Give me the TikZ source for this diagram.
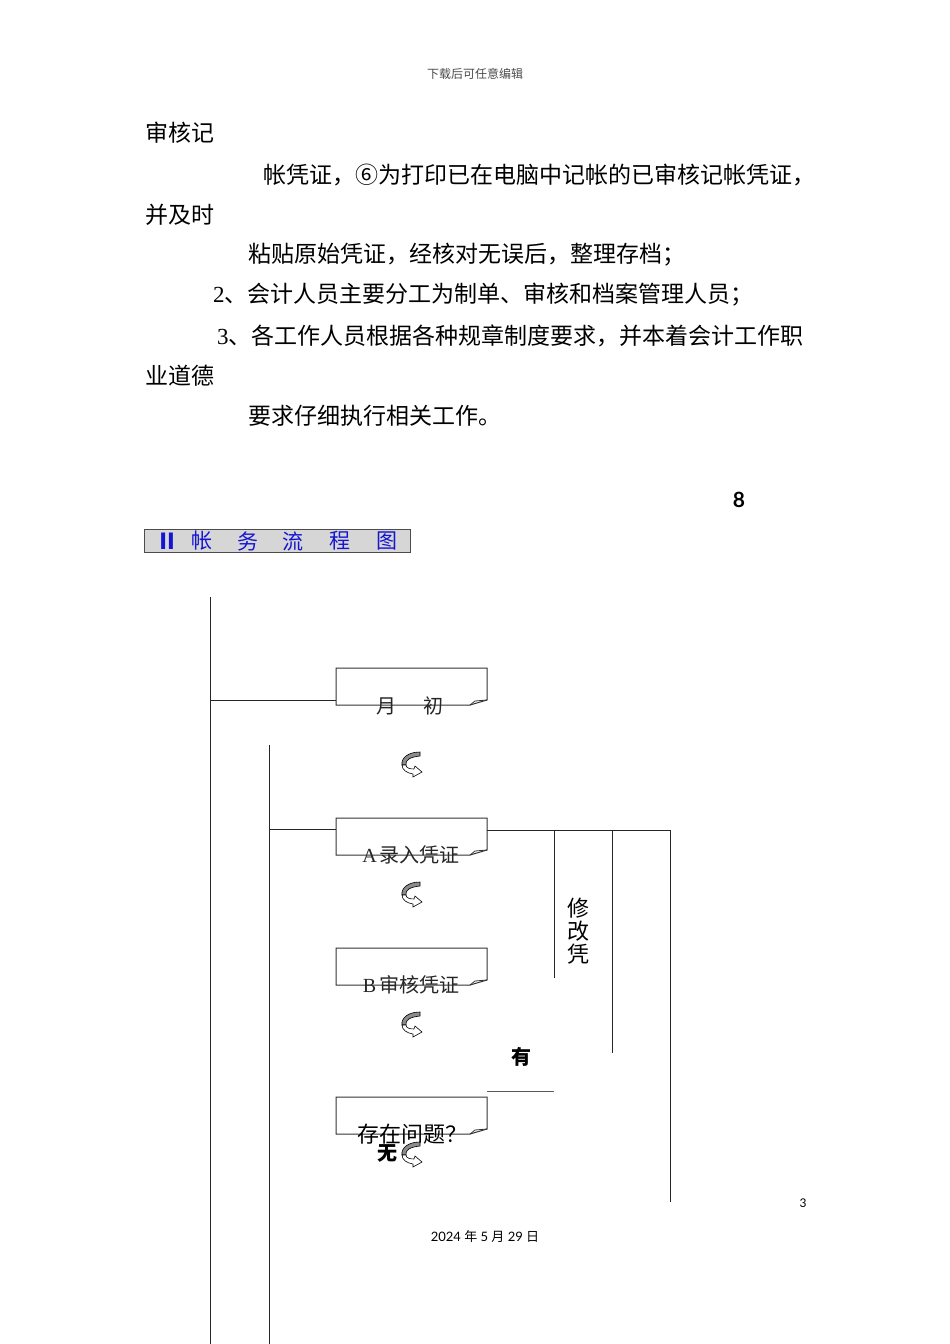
\documentclass[tikz,border=0pt]{standalone}
\usepackage{fontspec}
\setmainfont{Liberation Serif}
\newfontfamily\cjk{Noto Sans CJK SC}
\newfontfamily\numf{Lato}
\definecolor{titleblue}{RGB}{20,20,210}
\definecolor{titlegray}{RGB}{214,214,214}
\tikzset{
  body/.style={anchor=west, inner sep=0pt, font=\fontsize{23}{23}\selectfont\cjk},
  ln/.style={line width=1pt, draw=black!85},
  docbox/.style={line width=1pt, draw=black!80, fill=white},
  boxtext/.style={inner sep=0pt, font=\fontsize{20}{20}\selectfont\cjk, text=black!85},
  yn/.style={inner sep=0pt, font=\fontsize{20}{20}\selectfont\cjk\bfseries},
  tchar/.style={inner sep=0pt, font=\fontsize{21}{21}\selectfont\cjk, text=titleblue},
}
\newcommand{\docshape}[2]{% #1 = name, #2 = top-left corner (x,y)
  \begin{scope}[shift={#2}]
    \draw[docbox] (0,0) -- (151,0) -- (151,32) -- (134,37) -- (0,37) -- cycle;
    \draw[line width=0.8pt, black!80] (134,37) -- (139,33) -- (151,32);
    \coordinate (#1-w) at (0,18);
    \coordinate (#1-e) at (151,12);
    \coordinate (#1-c) at (75,37);
  \end{scope}}
\newcommand{\curlarrow}[1]{%
  \begin{scope}[shift={#1}]
    \filldraw[fill=black!45, draw=black, line width=0.6pt]
      (10,-13) .. controls (-2,-13) and (-9,-7) .. (-8,0) -- (-4,0)
      .. controls (-5,-5) and (0,-8) .. (10,-9) -- cycle;
    \filldraw[fill=white, draw=black, line width=0.6pt]
      (-8,0) .. controls (-8,5) and (-3,8) .. (3,9) -- (3,12) -- (12,7) -- (5,1) -- (4,4)
      .. controls (0,4) and (-4,3) .. (-4,0) -- cycle;
  \end{scope}}
\begin{document}
\begin{tikzpicture}[x=1pt,y=-1pt]
\useasboundingbox (0,0) rectangle (950,1344);
\fill[white] (0,0) rectangle (950,1344);

% header
\node[inner sep=0pt, font=\fontsize{12}{12}\selectfont\cjk, text=black!70] (hdr) at (475,74) {下载后可任意编辑};

% body text
\node[body] (l1) at (145,133) {审核记};
\node[body] (l2) at (263,175) {帐凭证，⑥为打印已在电脑中记帐的已审核记帐凭证，};
\node[body] (l3) at (145,215) {并及时};
\node[body] (l4) at (248,255) {粘贴原始凭证，经核对无误后，整理存档；};
\node[body] (l5) at (213,295) {{\rmfamily 2}、会计人员主要分工为制单、审核和档案管理人员；};
\node[body] (l6) at (217,336) {{\rmfamily 3}、各工作人员根据各种规章制度要求，并本着会计工作职};
\node[body] (l7) at (145,376) {业道德};
\node[body] (l8) at (248,416) {要求仔细执行相关工作。};

\node[inner sep=0pt, font=\fontsize{21}{21}\selectfont\numf\bfseries] (eight) at (739,500) {8};

% title box
\draw[fill=titlegray, draw=black!70, line width=1pt] (144,529) rectangle (410,552);
\node[tchar, font=\fontsize{22}{22}\selectfont\cjk\bfseries] (t1) at (167,541) {Ⅱ};
\node[tchar] (t2) at (202,541) {帐};
\node[tchar] (t3) at (248,541) {务};
\node[tchar] (t4) at (293,541) {流};
\node[tchar] (t5) at (340,541) {程};
\node[tchar] (t6) at (387,541) {图};

% left vertical lines
\coordinate (v1top) at (210,597);
\coordinate (v1bot) at (210,1344);
\draw[ln] (v1top) -- (v1bot);
\coordinate (v2top) at (269,745);
\coordinate (v2bot) at (269,1344);
\draw[ln] (v2top) -- (v2bot);

% boxes
\docshape{b1}{(336,668)}
\docshape{b2}{(336,818)}
\docshape{b3}{(336,948)}
\docshape{b4}{(336,1097)}

\node[boxtext] (t-b1) at (410,706) {月\hspace{1.4em}初};
\node[boxtext] (t-b2) at (411,855) {{\rmfamily A}\hspace{3pt}录入凭证};
\node[boxtext] (t-b3) at (411,985) {{\rmfamily B}\hspace{3pt}审核凭证};
\node[inner sep=0pt, font=\fontsize{22}{22}\selectfont\cjk] (t-b4) at (412,1134) {存在问题？};

% connectors from left lines to boxes
\coordinate (j1) at (210,700);
\coordinate (j1e) at (336,700);
\draw[ln] (j1) -- (j1e);
\coordinate (j2) at (269,829);
\coordinate (j2e) at (336,829);
\draw[ln] (j2) -- (j2e);

% right side loop lines
\coordinate (r0) at (487,830);
\coordinate (r1) at (554,830);
\coordinate (r2) at (612,830);
\coordinate (r3) at (670,830);
\coordinate (r1b) at (554,978);
\coordinate (r2b) at (612,1053);
\coordinate (r3b) at (670,1202);
\draw[ln] (r0) -- (r3);
\draw[ln] (r1) -- (r1b);
\draw[ln] (r2) -- (r2b);
\draw[ln] (r3) -- (r3b);
\coordinate (h1) at (487,1091);
\coordinate (h1e) at (554,1091);
\draw[line width=1pt, black!65] (h1) -- (h1e);

% vertical label
\node[inner sep=0pt, font=\fontsize{22}{22}\selectfont\cjk, align=center] (xg) at (578,931) {修\\[1pt]改\\[1pt]凭};

\node[yn] (you) at (521,1057) {有};
\node[yn] (wu) at (387,1153) {无};

% curled arrows
\curlarrow{(410,765)}
\curlarrow{(410,895)}
\curlarrow{(410,1025)}
\curlarrow{(410,1155)}

% footer
\node[inner sep=0pt, font=\fontsize{12}{12}\selectfont\numf] (pg) at (803,1203) {3};
\node[inner sep=0pt, font=\fontsize{13}{13}\selectfont\numf] (date) at (485,1237) {2024 {\cjk 年} 5 {\cjk 月} 29 {\cjk 日}};
\end{tikzpicture}
\end{document}
